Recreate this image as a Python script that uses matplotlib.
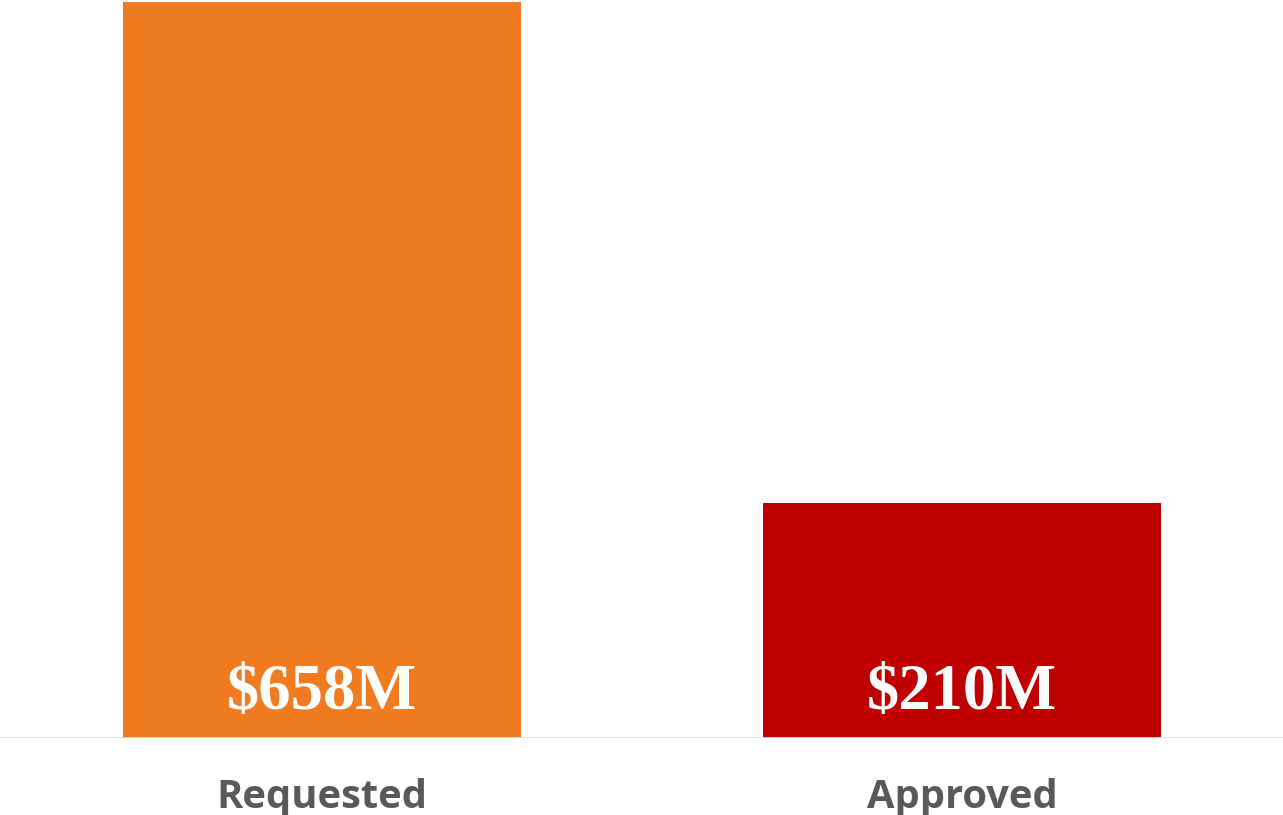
import matplotlib
matplotlib.use("Agg")
import matplotlib.pyplot as plt

categories = ["Requested", "Approved"]
values = [658, 210]
value_labels = ["$658M", "$210M"]
colors = ["#F07B21", "#C00000"]

W, H, DPI = 1283, 815, 100
fig = plt.figure(figsize=(W / DPI, H / DPI), dpi=DPI)
ax = fig.add_axes([0, (H - 737.5) / H, 1, 737.5 / H])

x = list(range(len(categories)))
ax.bar(x, values, width=398 / 640, color=colors, zorder=2)
ax.set_xlim(-322 / 640, (W - 322) / 640)
ax.set_ylim(0, 658 * 737.5 / 735.5)
ax.axis("off")
ax.axhline(0, color="#e0e0e0", lw=2.0, zorder=3)

for xi, lab in zip(x, value_labels):
    ax.annotate(lab, xy=(xi, 0), xycoords=("data", "data"),
                xytext=(0, 29 * 0.72), textcoords="offset points",
                ha="center", va="baseline", color="white",
                fontsize=46.5, fontweight="bold", family="Liberation Serif", zorder=4)

for xi, cat in zip(x, categories):
    ax.annotate(cat, xy=(xi, 0), xycoords=("data", "axes fraction"),
                xytext=(0, -70.5 * 0.72), textcoords="offset points",
                ha="center", va="baseline", color="#595959",
                fontsize=28.7, fontweight="bold", family="Open Sans",
                annotation_clip=False)

fig.savefig("out.png", dpi=DPI)
